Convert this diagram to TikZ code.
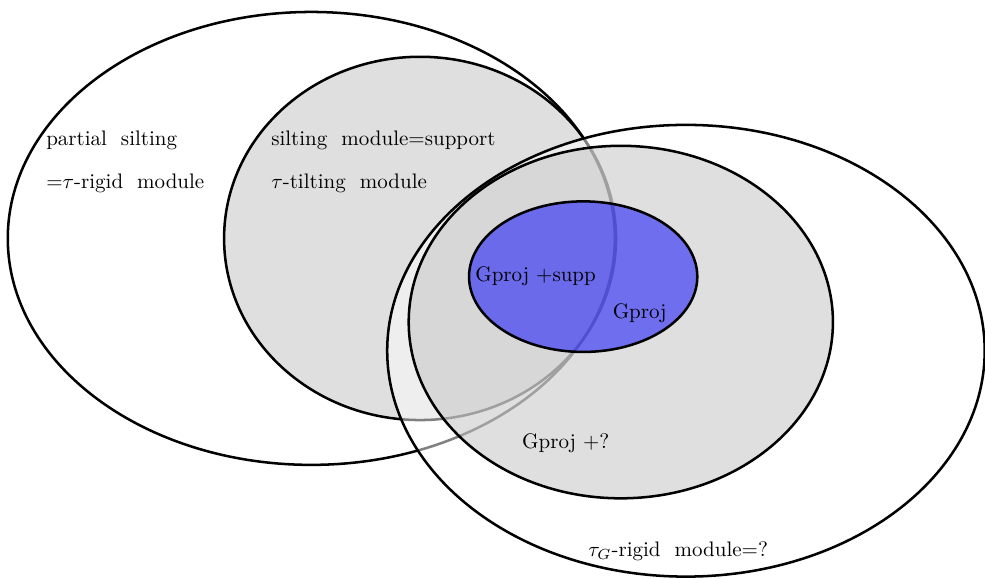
\documentclass[tikz,border=0pt]{standalone}
\usepackage{amssymb}
\usepackage{amsmath}
\usepackage{xcolor}
\usepackage{tikz}

\begin{document}
\begin{tikzpicture}[very thick,
    lbl/.style={anchor=base west,inner sep=0pt}]
            \useasboundingbox (0,0) rectangle (16.485,9.690);
            % left part
            \draw[fill=black!25,fill opacity=0.5] (7.03,5.70) ellipse (3.28 and 3.04);
            \draw (5.21,5.70) ellipse (5.08 and 3.79);
            % right part
            \draw[fill=white,fill opacity=0.5] (11.48,3.82) ellipse (5.00 and 3.78);
            \draw[fill=black!25,fill opacity=0.5] (10.39,4.30) ellipse (3.55 and 2.95);
            \draw[fill=blue,fill opacity=0.5] (9.76,5.06) ellipse (1.91 and 1.26);

            \node[lbl] at (0.753,7.247) (P) {partial\ \ silting};
            \node[lbl] at (0.753,6.527) (R) {=$\tau$-rigid\ \ module};
            \node[lbl] at (4.519,7.247) (S) {silting\ \ module=support};
            \node[lbl] at (4.519,6.527) (T) {$\tau$-tilting\ \ module};
            \node[lbl] at (7.933,4.979) (GS) {Gproj +supp};
            \node[lbl] at (10.234,4.363) (G) {Gproj};
            \node[lbl] at (8.719,2.192) (GQ) {Gproj +?};
            \node[lbl] at (9.824,0.373) (TG) {$\tau_G$-rigid\ \ module=?};
        \end{tikzpicture}
\end{document}
